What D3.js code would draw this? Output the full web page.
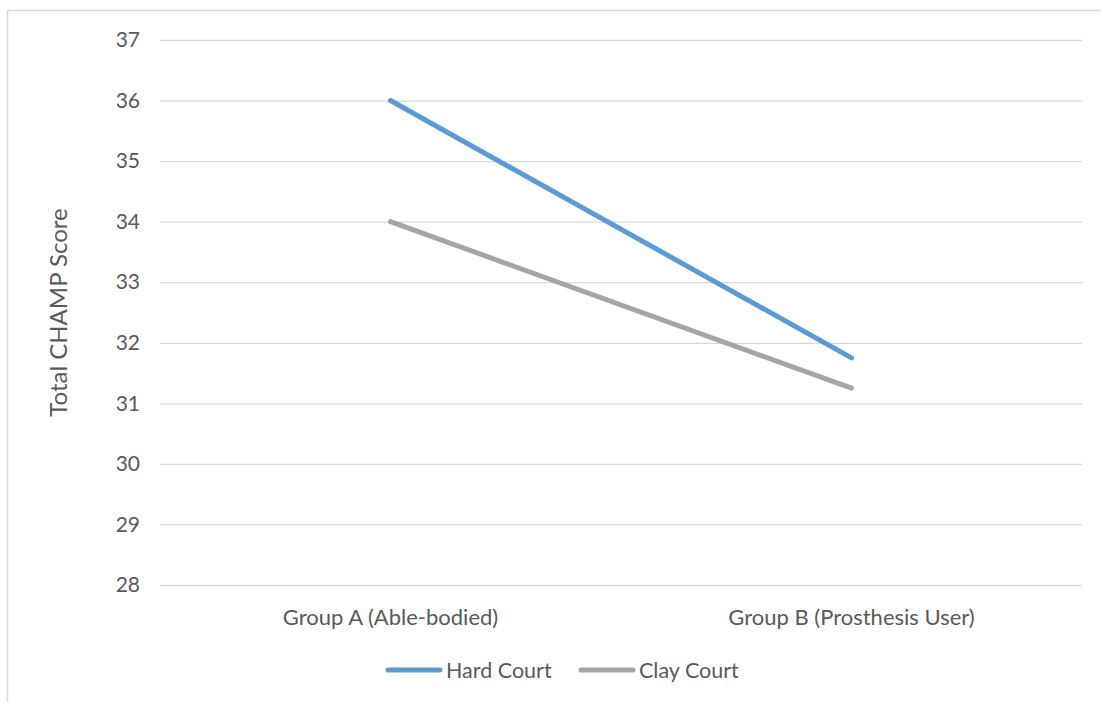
<!DOCTYPE html>
<html>
<head>
<meta charset="utf-8">
<script src="https://cdn.jsdelivr.net/npm/d3@7"></script>
<style>
  html, body { margin: 0; padding: 0; background: #fff; }
  svg text { font-family: Lato, "Open Sans", sans-serif; fill: #595959; }
</style>
</head>
<body>
<svg id="chart" width="1101" height="702"></svg>
<script>
const categories = ["Group A (Able-bodied)", "Group B (Prosthesis User)"];
const seriesNames = ["Hard Court", "Clay Court"];
const hardCourt = [36, 31.75];
const clayCourt = [34, 31.25];
const yTicks = [28, 29, 30, 31, 32, 33, 34, 35, 36, 37];
const colors = ["#5B9BD5", "#A5A5A5"];

const series = [
  { name: seriesNames[0], values: hardCourt, color: colors[0] },
  { name: seriesNames[1], values: clayCourt, color: colors[1] }
];

const svg = d3.select("#chart");
const plot = { left: 160, right: 1082, top: 40, bottom: 585 };
const fontStack = "Lato, 'Open Sans', sans-serif";

// outer chart border (only left and top edges fall inside the view)
svg.append("rect")
  .attr("x", 7.5).attr("y", 10.5)
  .attr("width", 1200).attr("height", 1000)
  .attr("fill", "none").attr("stroke", "#D9D9D9").attr("stroke-width", 1.5);

const x = d3.scaleBand().domain(categories).range([plot.left, plot.right]);
const y = d3.scaleLinear().domain([28, 37]).range([plot.bottom, plot.top]);

// horizontal gridlines + tick labels
const yAxis = d3.axisLeft(y).tickValues(yTicks).tickSize(-(plot.right - plot.left)).tickPadding(20).tickFormat(d3.format("d"));
const gy = svg.append("g").attr("transform", `translate(${plot.left},0)`).call(yAxis);
gy.select(".domain").remove();
gy.selectAll(".tick line").attr("stroke", "#D9D9D9").attr("stroke-width", 1.3);
gy.selectAll(".tick text").attr("font-size", 21).style("font-family", fontStack).attr("fill", "#595959");

// category labels
const xAxis = d3.axisBottom(x).tickSize(0).tickPadding(24);
const gx = svg.append("g").attr("transform", `translate(0,${plot.bottom})`).call(xAxis);
gx.select(".domain").remove();
gx.selectAll(".tick text").attr("font-size", 22).style("font-family", fontStack).attr("fill", "#595959");

// y axis title
svg.append("text")
  .attr("transform", `translate(67,${(plot.top + plot.bottom) / 2}) rotate(-90)`)
  .attr("text-anchor", "middle")
  .attr("font-size", 24)
  .text("Total CHAMP Score");

// series lines
const line = d3.line()
  .x((d, i) => x(categories[i]) + x.bandwidth() / 2)
  .y(d => y(d));

svg.append("g").selectAll("path")
  .data(series.slice().reverse())
  .join("path")
  .attr("d", d => line(d.values))
  .attr("fill", "none")
  .attr("stroke", d => d.color)
  .attr("stroke-width", 5)
  .attr("stroke-linecap", "round");

// legend
const legendY = 670;
const legendItems = [
  { s: series[0], x0: 388 },
  { s: series[1], x0: 581 }
];
const lg = svg.append("g");
legendItems.forEach(item => {
  lg.append("line")
    .attr("x1", item.x0).attr("x2", item.x0 + 52)
    .attr("y1", legendY).attr("y2", legendY)
    .attr("stroke", item.s.color).attr("stroke-width", 5).attr("stroke-linecap", "round");
  lg.append("text")
    .attr("x", item.x0 + 58).attr("y", legendY)
    .attr("dy", "0.35em")
    .attr("font-size", 21.5)
    .text(item.s.name);
});
</script>
</body>
</html>
